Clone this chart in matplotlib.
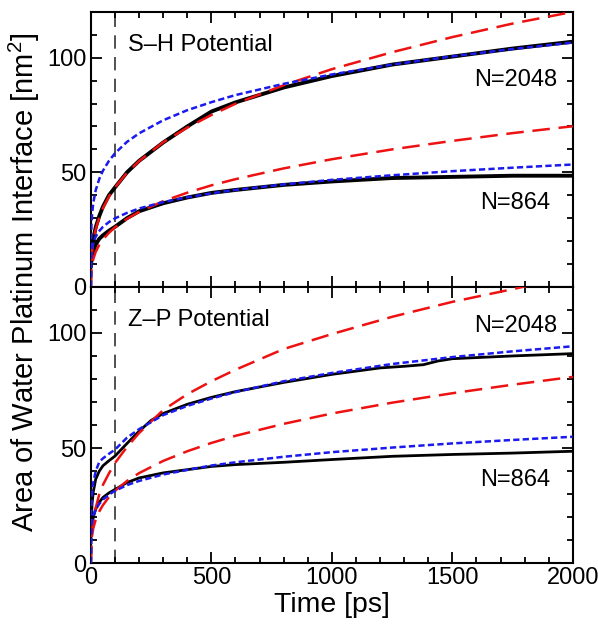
import numpy as np
import matplotlib
matplotlib.use('Agg')
import matplotlib.pyplot as plt
from matplotlib.ticker import MultipleLocator

plt.rcParams['font.family'] = ['Liberation Sans', 'DejaVu Sans']
plt.rcParams['mathtext.fontset'] = 'custom'
plt.rcParams['mathtext.rm'] = 'Liberation Sans'
plt.rcParams['mathtext.default'] = 'regular'

# time grid [ps] used for the curves
t = [0, 2, 5, 10, 20, 35, 50, 75, 100, 150, 200, 300, 400, 500, 600, 800,
     1000, 1250, 1500, 1750, 2000]
# finer grid for the Z-P N=2048 MD curve (it has a small step near 1450 ps)
t_zp = [0, 2, 5, 10, 20, 35, 50, 75, 100, 150, 200, 250, 300, 400, 500, 600, 800,
        1000, 1200, 1300, 1380, 1440, 1500, 1750, 2000]

# ---- S-H potential (top panel) ----
sh_2048_md = [10, 13, 17, 21, 26, 31, 35, 40, 43.4, 50, 55, 63, 70, 76.5, 80.5,
              87, 92, 97, 100.5, 104, 107]
sh_2048_red = [0, 11.5, 15.7, 19.8, 25.1, 30.4, 34.3, 39.4, 43.4, 49.8, 54.9, 63.1,
               69.5, 75.0, 79.9, 88.0, 95.0, 102.4, 109.0, 114.9, 120]
sh_2048_blue = [0, 26.5, 31.9, 36.7, 42.2, 47.2, 50.7, 55.0, 58.3, 63.3, 67.0, 72.7,
                77.1, 80.6, 83.7, 88.6, 92.7, 97.0, 100.6, 103.8, 106.6]
sh_864_md = [9, 11, 13, 15.5, 18.5, 21, 22.5, 24.5, 26.2, 30, 33, 36.5, 39, 41,
             42.3, 44.5, 46, 47.5, 48, 48.5, 48.5]
sh_864_red = [0, 7.1, 9.6, 12.1, 15.3, 18.4, 20.7, 23.6, 26, 29.7, 32.7, 37.4, 41.1,
              44.3, 47.0, 51.7, 55.7, 60.0, 63.7, 67.1, 70.1]
sh_864_blue = [0, 14.0, 16.8, 19.2, 21.9, 24.4, 26.2, 28.3, 29.9, 32.3, 34.2, 37.0,
               39.1, 40.8, 42.3, 44.7, 46.7, 48.7, 50.5, 52.0, 53.4]

# ---- Z-P potential (bottom panel) ----
zp_2048_md = [12, 19, 26, 31, 36.5, 40, 42.3, 44.5, 46.5, 52, 57.3, 62, 65, 69, 72,
              74.5, 78.5, 82, 84.8, 85.5, 86.2, 87.8, 88.8, 90, 91]
zp_2048_red = [0, 9, 14, 18.5, 24, 30, 34, 39, 43.5, 50.5, 56.5, 66.5, 73.4, 79, 84,
               93, 99.5, 107, 113.5, 119, 125]
zp_2048_blue = [0, 24, 30, 35, 40, 44, 45.5, 47.5, 49.3, 54.5, 58.2, 64.3, 68.3, 71.5,
                74.3, 79, 82.6, 86.5, 89.5, 92, 94.2]
zp_864_md = [11, 14, 17, 20, 23.5, 26.5, 28.5, 30.5, 32, 35, 37, 39.2, 40.6, 42, 42.8,
             43.8, 45, 46.4, 47.2, 47.8, 48.6]
zp_864_red = [0, 9.1, 12.2, 15.2, 18.9, 22.5, 25.2, 28.7, 31.4, 35.7, 39.1, 44.4, 48.6,
              52.2, 55.3, 60.5, 65.0, 69.7, 73.8, 77.5, 80.9]
zp_864_blue = [0, 15.2, 18, 20.5, 23.3, 25.8, 27.6, 29.8, 31.4, 33.9, 35.7, 38.5, 40.5,
               42.4, 43.8, 46.2, 48.2, 50.2, 52.0, 53.5, 54.9]

panels = [
    ('S\u2013H Potential', t, sh_2048_md, sh_2048_red, sh_2048_blue,
     sh_864_md, sh_864_red, sh_864_blue, 90.3, 36.5),
    ('Z\u2013P Potential', t_zp, zp_2048_md, zp_2048_red, zp_2048_blue,
     zp_864_md, zp_864_red, zp_864_blue, 103.2, 36.2),
]

fig = plt.figure(figsize=(5.98, 6.25), dpi=100)
ax_top = fig.add_axes([0.152, 0.541, 0.806, 0.440])
ax_bot = fig.add_axes([0.152, 0.099, 0.806, 0.442], sharex=ax_top)

for ax, (title, t_a, md_a, red_a, blue_a, md_b, red_b, blue_b, ya, yb) in zip([ax_top, ax_bot], panels):
    ax.axvline(100, color='#333333', lw=1.2, dashes=(8, 5), zorder=1)
    md_lw = 2.8 if ax is ax_top else 2.0
    ax.plot(t_a, md_a, color='black', lw=md_lw, zorder=2)
    ax.plot(t, md_b, color='black', lw=md_lw, zorder=2)
    for red, blue in [(red_a, blue_a), (red_b, blue_b)]:
        ax.plot(t, red, color='#ee1111', lw=1.8, dashes=(7, 3.5), zorder=3)
        ax.plot(t, blue, color='#1a1aee', lw=1.8, dashes=(2.5, 1.3), zorder=4)
    ax.text(153, 105.5, title, fontsize=17, ha='left', va='center')
    ax.text(1934, ya, 'N=2048', fontsize=17, ha='right', va='center')
    ax.text(1905, yb, 'N=864', fontsize=17, ha='right', va='center')

    ax.set_xlim(0, 2000)
    ax.set_ylim(0, 120)
    ax.xaxis.set_major_locator(MultipleLocator(500))
    ax.xaxis.set_minor_locator(MultipleLocator(100))
    ax.yaxis.set_major_locator(MultipleLocator(50))
    ax.yaxis.set_minor_locator(MultipleLocator(10))
    ax.tick_params(which='both', direction='in', top=True, right=True, width=1.3,
                   labelsize=17, pad=3)
    ax.tick_params(which='major', length=8)
    ax.tick_params(which='minor', length=4)
    for sp in ax.spines.values():
        sp.set_linewidth(1.5)

ax_top.tick_params(labelbottom=False)
ax_bot.set_xlabel('Time [ps]', fontsize=20.5, labelpad=2)
fig.text(0.04, 0.548, 'Area of Water Platinum Interface [nm$^2$]', fontsize=21,
         rotation=90, ha='center', va='center')

fig.savefig('out.png', dpi=100)
